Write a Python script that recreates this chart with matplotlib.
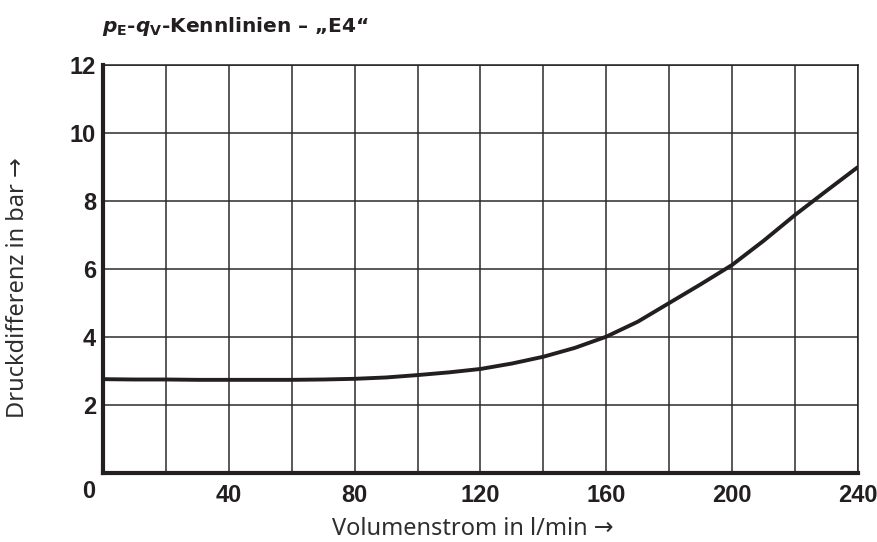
import numpy as np
import matplotlib.pyplot as plt

# values
flow = [0, 10, 20, 30, 40, 50, 60, 70, 80, 90, 100, 110, 120, 130, 140,
        150, 160, 170, 180, 190, 200, 210, 220, 230, 240]
dp = [2.76, 2.75, 2.75, 2.74, 2.74, 2.74, 2.74, 2.75, 2.77, 2.81, 2.88, 2.96,
      3.06, 3.22, 3.42, 3.68, 4.01, 4.45, 5.0, 5.55, 6.12, 6.83, 7.59, 8.3, 9.0]

x_ticks = list(range(0, 241, 20))
x_labels = ['' if (t == 0 or t % 40) else str(t) for t in x_ticks]
y_ticks = list(range(0, 13, 2))
y_labels = ['' if t == 0 else str(t) for t in y_ticks]

tick_font = ['Liberation Sans Narrow', 'Liberation Sans', 'DejaVu Sans']
label_font = ['Noto Sans', 'DejaVu Sans']
ink = '#231f20'

plt.rcParams['mathtext.fontset'] = 'custom'
plt.rcParams['mathtext.bfit'] = 'DejaVu Sans:italic:bold'
plt.rcParams['mathtext.bf'] = 'DejaVu Sans:bold'

fig = plt.figure(figsize=(8.78, 5.42), dpi=100)
ax = fig.add_axes([0.1173, 0.1273, 0.8599, 0.7528])

ax.plot(flow, dp, color=ink, lw=2.8, solid_capstyle='butt')

ax.set_xlim(0, 240)
ax.set_ylim(0, 12)
ax.set_xticks(x_ticks)
ax.set_xticklabels(x_labels)
ax.set_yticks(y_ticks)
ax.set_yticklabels(y_labels)
ax.tick_params(length=0)
ax.tick_params(axis='x', pad=8)
ax.tick_params(axis='y', pad=5)
for lab in ax.get_xticklabels() + ax.get_yticklabels():
    lab.set_family(tick_font)
    lab.set_fontweight('bold')
    lab.set_fontsize(17)
    lab.set_color(ink)

ax.grid(True, color='#2b2b2b', lw=1.1)
ax.set_axisbelow(True)
for side in ['top', 'right']:
    ax.spines[side].set_linewidth(1.1)
    ax.spines[side].set_color(ink)
for side in ['left', 'bottom']:
    ax.spines[side].set_linewidth(3.0)
    ax.spines[side].set_color(ink)

# shared zero at the corner
ax.annotate('0', xy=(0, 0), xytext=(-10, -13), textcoords='offset points',
            ha='center', va='center', family=tick_font, fontweight='bold',
            fontsize=17, color=ink, annotation_clip=False)

fig.text(0.539, 0.024, 'Volumenstrom in l/min →', family=label_font,
         fontsize=17, color='#2e2e2e', ha='center', va='center')
fig.text(0.020, 0.469, 'Druckdifferenz in bar →', family=label_font,
         fontsize=17, color='#2e2e2e', ha='center', va='center',
         rotation=90)

fig.text(0.116, 0.941,
         r'$\mathbfit{p}_{\mathbf{E}}$-$\mathbfit{q}_{\mathbf{V}}$-Kennlinien – „E4“',
         family='DejaVu Sans', fontweight='bold',
         fontsize=14.5, color=ink, ha='left', va='baseline')

fig.savefig('out.png', dpi=100)
